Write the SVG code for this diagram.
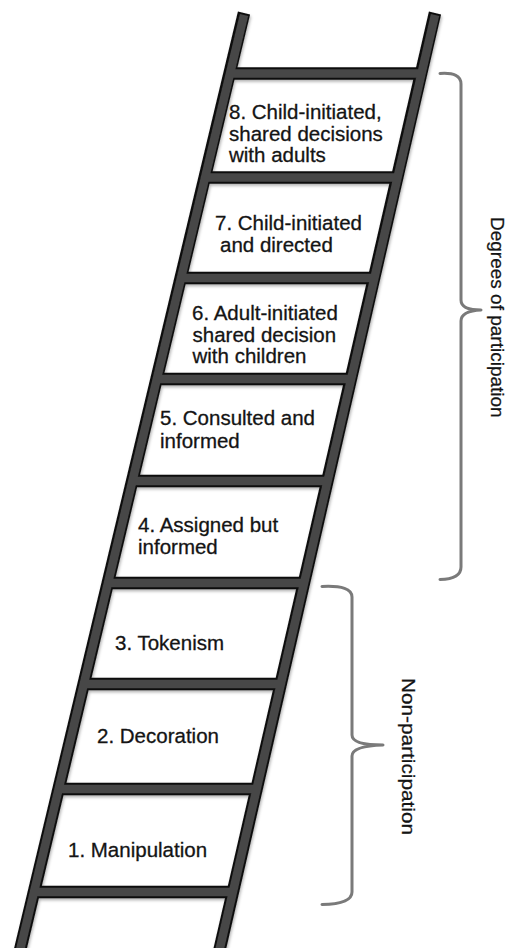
<svg xmlns="http://www.w3.org/2000/svg" width="507" height="948" viewBox="0 0 507 948">
<defs>
<filter id="sh" x="-10%" y="-10%" width="130%" height="130%">
<feDropShadow dx="1" dy="2" stdDeviation="1.5" flood-color="#000" flood-opacity="0.3"/>
</filter>
</defs>
<style>
.o{stroke:#111;stroke-width:12.5;fill:none;stroke-linecap:butt}
.i{stroke:#474747;stroke-width:8.5;fill:none;stroke-linecap:butt}
.t{font-family:"Liberation Sans",Arial,Helvetica,sans-serif;font-size:20.5px;fill:#141414;stroke:#141414;stroke-width:0.3}
.lab{font-family:"Liberation Sans",Arial,Helvetica,sans-serif;font-size:19px;fill:#141414;stroke:#141414;stroke-width:0.25}
.br{stroke:#7a7a7a;stroke-width:3;fill:none;stroke-linecap:round;stroke-linejoin:round}
</style>
<rect width="507" height="948" fill="#fff"/>
<g id="ladder" filter="url(#sh)">
<g>
<line class="o" x1="244" y1="13" x2="17.7" y2="960"/>
<line class="o" x1="435" y1="13" x2="217.2" y2="960"/>
<line class="o" x1="229.5" y1="73.5" x2="421.1" y2="73.5"/>
<line class="o" x1="204.7" y1="177.5" x2="397.2" y2="177.5"/>
<line class="o" x1="180.7" y1="278" x2="374" y2="278"/>
<line class="o" x1="156.5" y1="379" x2="350.8" y2="379"/>
<line class="o" x1="132.1" y1="481" x2="327.4" y2="481"/>
<line class="o" x1="107.8" y1="583" x2="303.9" y2="583"/>
<line class="o" x1="83.6" y1="684" x2="280.7" y2="684"/>
<line class="o" x1="58.5" y1="789" x2="256.5" y2="789"/>
<line class="o" x1="33.9" y1="892" x2="232.8" y2="892"/>
</g>
<g>
<line class="i" x1="244" y1="15" x2="17.7" y2="960"/>
<line class="i" x1="435" y1="15" x2="217.2" y2="960"/>
<line class="i" x1="229.5" y1="73.5" x2="421.1" y2="73.5"/>
<line class="i" x1="204.7" y1="177.5" x2="397.2" y2="177.5"/>
<line class="i" x1="180.7" y1="278" x2="374" y2="278"/>
<line class="i" x1="156.5" y1="379" x2="350.8" y2="379"/>
<line class="i" x1="132.1" y1="481" x2="327.4" y2="481"/>
<line class="i" x1="107.8" y1="583" x2="303.9" y2="583"/>
<line class="i" x1="83.6" y1="684" x2="280.7" y2="684"/>
<line class="i" x1="58.5" y1="789" x2="256.5" y2="789"/>
<line class="i" x1="33.9" y1="892" x2="232.8" y2="892"/>
</g>
</g>
<g id="step8"><text class="t" x="229" y="119">8. Child-initiated,</text><text class="t" x="229" y="140.5">shared decisions</text><text class="t" x="229" y="162">with adults</text></g>
<g id="step7"><text class="t" x="215" y="230">7. Child-initiated</text><text class="t" x="220" y="252">and directed</text></g>
<g id="step6"><text class="t" x="192" y="320">6. Adult-initiated</text><text class="t" x="192.5" y="341.5">shared decision</text><text class="t" x="192.5" y="363">with children</text></g>
<g id="step5"><text class="t" x="160" y="425">5. Consulted and</text><text class="t" x="160" y="447.5">informed</text></g>
<g id="step4"><text class="t" x="138" y="531.5">4. Assigned but</text><text class="t" x="138" y="554">informed</text></g>
<g id="step3"><text class="t" x="115" y="650">3. Tokenism</text></g>
<g id="step2"><text class="t" x="97" y="743">2. Decoration</text></g>
<g id="step1"><text class="t" x="68" y="857">1. Manipulation</text></g>
<g id="connectors">
<path class="br" d="M440,73.5 Q461,72 461,84 L461,300 Q461,310 481,310 Q461,311 461,321 L461,567 Q461,579 440,579.5"/>
<path class="br" d="M322,586.5 Q352,585 352,597 L352,735 Q352,745 383,745 Q352,746 352,756 L352,892 Q352,904 322,904.5"/>
</g>
<g id="label-degrees"><text class="lab" transform="translate(491,217) rotate(90)">Degrees of participation</text></g>
<g id="label-non"><text class="lab" transform="translate(402,678) rotate(90)" textLength="157" lengthAdjust="spacingAndGlyphs">Non-participation</text></g>
</svg>
